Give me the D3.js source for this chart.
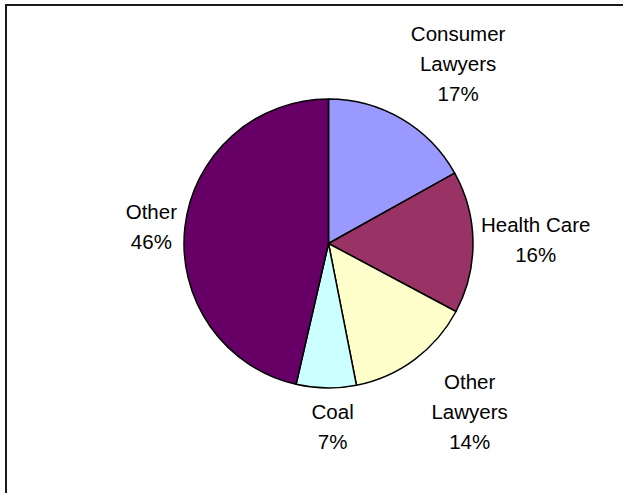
<!DOCTYPE html>
<html><head><meta charset="utf-8">
<script src="https://cdn.jsdelivr.net/npm/d3@7"></script>
<style>html,body{margin:0;padding:0;background:#fff;overflow:hidden}</style>
</head><body>
<svg id="chart" width="623" height="493"></svg>
<script>
const categories = ["Consumer Lawyers", "Health Care", "Other Lawyers", "Coal", "Other"];
const labelLines = [["Consumer", "Lawyers"], ["Health Care"], ["Other", "Lawyers"], ["Coal"], ["Other"]];
const values = [16.9, 15.9, 14.1, 6.7, 46.4];
const colors = ["#9999FF", "#993366", "#FFFFCC", "#CCFFFF", "#660066"];
const labelNudgeX = [26, 0, 17, 7, 0];
const labelNudgeY = [-3, -2, 1, 1, 3];

const svg = d3.select("#chart");
svg.append("rect").attr("x", 6).attr("y", 5).attr("width", 700).attr("height", 600)
  .attr("fill", "none").attr("stroke", "#1a1a1a").attr("stroke-width", 2);

const cx = 328.5, cy = 243.5, r = 144.5;
const total = d3.sum(values);
const pie = d3.pie().sort(null).value(d => d)(values);
const arc = d3.arc().innerRadius(0).outerRadius(r);
const g = svg.append("g").attr("transform", `translate(${cx},${cy})`);
g.selectAll("path").data(pie).join("path")
  .attr("d", arc).attr("fill", (d, i) => colors[i])
  .attr("stroke", "#000").attr("stroke-width", 1.5).attr("stroke-linejoin", "round");

const fs = 20.5, lh = 30;
const measure = svg.append("text").attr("font-family", "Liberation Sans, Arial, sans-serif").attr("font-size", fs);
pie.forEach((d, i) => {
  const lines = labelLines[i].concat([Math.round(values[i] / total * 100) + "%"]);
  let w = 0;
  lines.forEach(t => { measure.text(t); w = Math.max(w, measure.node().getComputedTextLength()); });
  const h = lines.length * lh;
  const a = (d.startAngle + d.endAngle) / 2;
  const s = Math.sin(a), c = Math.cos(a);
  const ext = Math.min(Math.abs(s) > 1e-6 ? (w / 2) / Math.abs(s) : 1e9, Math.abs(c) > 1e-6 ? (h / 2) / Math.abs(c) : 1e9);
  const dist = r + 8 + ext;
  const x = s * dist + labelNudgeX[i];
  const y = -c * dist + labelNudgeY[i];
  const t = g.append("text").attr("font-family", "Liberation Sans, Arial, sans-serif")
    .attr("font-size", fs).attr("fill", "#000").attr("text-anchor", "middle");
  lines.forEach((line, k) => {
    t.append("tspan").attr("x", x).attr("y", y - h / 2 + lh * k + lh / 2 + fs * 0.36).text(line);
  });
});
measure.remove();
</script>
</body></html>
